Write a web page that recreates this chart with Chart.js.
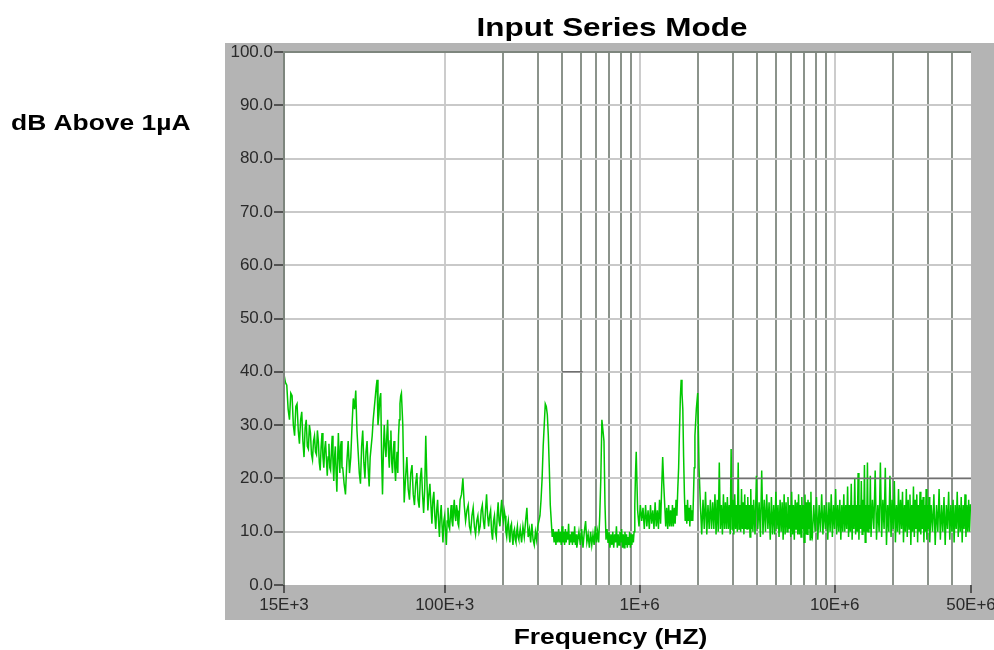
<!DOCTYPE html>
<html>
<head>
<meta charset="utf-8">
<script src="https://cdn.jsdelivr.net/npm/chart.js@4"></script>
<style>
html,body{margin:0;padding:0;background:#ffffff;}
#wrap{position:relative;width:994px;height:650px;}
</style>
</head>
<body>
<div id="wrap"><canvas id="c" width="994" height="650"></canvas></div>
<script>
const chartTitle = 'Input Series Mode';
const yAxisLabel = 'dB Above 1µA';
const xAxisLabel = 'Frequency (HZ)';

// Sweep frequencies (kHz)
const freqKHz = [
 15,15.25,15.5,15.75,16,16.25,16.5,16.75,17,17.25,17.5,17.75,18,18.25,18.5,18.75,19,19.25,19.5,19.75,20,20.25,20.5,20.75,21,21.25,21.5,21.75,22,22.25,22.5,22.75,23,23.25,23.5,23.75,24,24.25,24.5,24.75,25,25.25,25.5,25.75,26,26.25,26.5,26.75,27,27.25,27.5,27.75,28,28.25,28.5,28.75,29,29.25,29.5,29.75,
 30,30.5,31,31.5,32,32.5,33,33.5,34,34.5,35,35.5,36,36.5,37,37.5,38,38.5,39,39.5,40,40.5,41,41.5,42,42.5,43,43.5,44,44.5,45,45.5,46,46.5,47,47.5,48,48.5,49,49.5,50,50.5,51,51.5,52,52.5,53,53.5,54,54.5,55,55.5,56,56.5,57,57.5,58,58.5,59,59.5,
 60,61,62,63,64,65,66,67,68,69,70,71,72,73,74,75,76,77,78,79,80,81,82,83,84,85,86,87,88,89,90,91,92,93,94,95,96,97,98,99,100,101,102,103,104,105,106,107,108,109,110,111,112,113,114,115,116,117,118,119,
 120,122,124,126,128,130,132,134,136,138,140,142,144,146,148,150,152,154,156,158,160,162,164,166,168,170,172,174,176,178,180,182,184,186,188,190,192,194,196,198,200,202,204,206,208,210,212,214,216,218,220,222,224,226,228,230,232,234,236,238,
 240,244,248,252,256,260,264,268,272,276,280,284,288,292,296,300,304,308,312,316,320,324,328,332,336,340,344,348,352,356,360,364,368,372,376,380,384,388,392,396,400,404,408,412,416,420,424,428,432,436,440,444,448,452,456,460,464,468,472,476,
 480,488,496,504,512,520,528,536,544,552,560,568,576,584,592,600,608,616,624,632,640,648,656,664,672,680,688,696,704,712,720,728,736,744,752,760,768,776,784,792,800,808,816,824,832,840,848,856,864,872,880,888,896,904,912,920,928,936,944,952,
 960,976,992,1008,1024,1040,1056,1072,1088,1104,1120,1136,1152,1168,1184,1200,1216,1232,1248,1264,1280,1296,1312,1328,1344,1360,1376,1392,1408,1424,1440,1456,1472,1488,1504,1520,1536,1552,1568,1584,1600,1616,1632,1648,1664,1680,1696,1712,1728,1744,1760,1776,1792,1808,1824,1840,1856,1872,1888,1904,
 1920,1952,1984,2016,2048,2080,2112,2144,2176,2208,2240,2272,2304,2336,2368,2400,2432,2464,2496,2528,2560,2592,2624,2656,2688,2720,2752,2784,2816,2848,2880,2912,2944,2976,3008,3040,3072,3104,3136,3168,3200,3232,3264,3296,3328,3360,3392,3424,3456,3488,3520,3552,3584,3616,3648,3680,3712,3744,3776,3808,
 3840,3904,3968,4032,4096,4160,4224,4288,4352,4416,4480,4544,4608,4672,4736,4800,4864,4928,4992,5056,5120,5184,5248,5312,5376,5440,5504,5568,5632,5696,5760,5824,5888,5952,6016,6080,6144,6208,6272,6336,6400,6464,6528,6592,6656,6720,6784,6848,6912,6976,7040,7104,7168,7232,7296,7360,7424,7488,7552,7616,
 7680,7808,7936,8064,8192,8320,8448,8576,8704,8832,8960,9088,9216,9344,9472,9600,9728,9856,9984,10112,10240,10368,10496,10624,10752,10880,11008,11136,11264,11392,11520,11648,11776,11904,12032,12160,12288,12416,12544,12672,12800,12928,13056,13184,13312,13440,13568,13696,13824,13952,14080,14208,14336,14464,14592,14720,14848,14976,15104,15232,
 15360,15616,15872,16128,16384,16640,16896,17152,17408,17664,17920,18176,18432,18688,18944,19200,19456,19712,19968,20224,20480,20736,20992,21248,21504,21760,22016,22272,22528,22784,23040,23296,23552,23808,24064,24320,24576,24832,25088,25344,25600,25856,26112,26368,26624,26880,27136,27392,27648,27904,28160,28416,28672,28928,29184,29440,29696,29952,30208,30464,
 30720,31232,31744,32256,32768,33280,33792,34304,34816,35328,35840,36352,36864,37376,37888,38400,38912,39424,39936,40448,40960,41472,41984,42496,43008,43520,44032,44544,45056,45568,46080,46592,47104,47616,48128,48640,49152,49664,50000
];

// Measured level (dB above 1 µA)
const levelDb = [
 39.5,38,37.5,33,31,36,35.5,30,28,33.5,34,29,26.5,31,32.5,27,24,29.5,31,26,25.5,30,28.5,24.5,23.5,27,28,25,24.5,29,27,23,21.5,26,28.5,24,22,25.5,27,23.5,20.5,24,26.5,22,21.5,25,28,23,19.5,24,26,21,17.5,23.5,28.5,24,21,26,27,22,
 22,19,17,23,27,21,24,30,35,33,36.5,29,25,21,19,26,29,23,20,25,27,22,18.5,24,26,28,31,33,35,37,38.5,30,32,35,36,24,17,25,30,26,24,28,31,25,22,27,29,23,21,25,27,22,19.5,23,25,21,28,31,34,35.5,
 36,30,15.5,20,24,18,16,21,22.5,17,15,19,21,16,14.5,20,22,17,13.5,18,28,20,14,17,19,15,11.5,16,17.5,13,10.5,14,16,12,9,13,15,11,8,12,13,10,7.5,12,14.5,11,10.5,13,15,12,11,14,16,13,12,15,14,11.5,11,13.5,
 16,17,20,15,12,14,15,11,10,13,14.5,11,9.5,12,13,10,11,14,15,12,10.5,14,17,13,11,13,14,10,8.5,12,13,10,9,13,15.5,12,11,14,16,13,12,14,13,10,9,11,12,9.5,8,11,11.5,9,7.5,10,10.5,8.5,8,10,11,9,
 8.5,10.5,8,11,9,12,14.5,9,10.5,8,11.5,8.5,7.5,10,8.5,11,12,13,16,20,26,30,34,33.5,32,28,22,15,12,9,10.5,8,10,7.5,10,8,10.5,8,10,7.5,11,8,10,7.5,10.5,8,10,8.5,11.5,7.5,9.5,8,10,7.5,10,8,11,7.5,9.5,7,
 8,10,7.5,10.5,7,10,12,8,9.5,7,10,7.5,9.5,7.5,11,8,10,8,13,20,31,29,27,15,8.5,10.5,8,10,7,9.5,7.5,10,7,9.5,8,11,7,9.5,7.5,10,8,10.5,7,9.5,7,10,7.5,9.5,7,9,7.5,10,7,9.5,7.5,9.5,8,10,15,21,
 25,14,11,15,12,14.5,10.5,15,11,14,10.5,15,11.5,14,10.5,15.5,11,14,10.5,16,11.5,18,24,19,15,11,14.5,10.5,15,11,14,11,15,11,14.5,11.5,16,13,18,22,29,35,38.5,36,33,24,17,12,15,11.5,16,12,14.5,11,15,12,14,12,17,22,
 28,33,36,22,15,9.5,16,10.5,17.5,9.5,15,10.5,16,10.5,15.5,10.5,17,9.5,16,10,23,10.5,15,9.5,17,10.5,15.5,10.5,16.5,10.5,15,9.5,25.5,10.5,16,9.5,17,10.5,15,10,23,10.5,15,10,18,10.5,15.5,9.5,17,10.5,15,10.5,16.5,10.5,15,9,18,10.5,15,10,
 16,9.5,20.5,10.5,15.5,9,21.5,9.5,16,10,17,10.5,15.5,8.5,16.5,9.5,15,9.5,17.5,10.5,15,9,16,10,15.5,8.5,17,9.5,15.5,10,16.5,10.5,15,9,17.5,9.5,15,8.5,16,10.5,15.5,9.5,17,9.5,15,9,16.5,10.5,15,8,17,9.5,15.5,9.5,16,10.5,15.5,8.5,17.5,9.5,
 9,15,10,16.5,8.5,15,10,17,9.5,15,10.5,15.5,8.5,15.5,10,17,9,15,10.5,18,9.5,15,10,16,8.5,15,10,17,10,15,10.5,18.5,9,15,10,19,8.5,15,10.5,20,9.5,15,10,21,8.5,15,10.5,19.5,9.5,16,10,22.5,8,15,10,23,10,15,10.5,20.5,
 9,16,10.5,21.5,8.5,15,10,23,9,16,10.5,22,7.5,15,10,20.5,9,16,10.5,19.5,8,15,10,18,9.5,16,10.5,17.5,8,15,10,18,9,16,10.5,17,7.5,15,10,18.5,9,16,10.5,17,8,15,10,17.5,9.5,16,10.5,16.5,8,15,10,18,8.5,15,10.5,16.5,
 8,15,10,17,7.5,15,10,18,8.5,15,10,16.5,7.5,15,10.5,17.5,8.5,15,10,16,8,15,10.5,17.5,9,15,10,16.5,8,15,10.5,17,9,15,10,16,10,15,15
];

// Faint limit-line remnants
const limitFreqKHz = [400, 510, 520, 2000, 50000];
const limitDb = [40, 40, null, 20, 20];

// Axis ticks
const xGridHz = [15e3,1e5,2e5,3e5,4e5,5e5,6e5,7e5,8e5,9e5,1e6,2e6,3e6,4e6,5e6,6e6,7e6,8e6,9e6,1e7,2e7,3e7,4e7,5e7];
const xDecadeHz = [1e5,1e6,1e7];
const xLabelHz = [15e3,1e5,1e6,1e7,5e7];
const xLabelText = ['15E+3','100E+3','1E+6','10E+6','50E+6'];
const yTickValues = [0,10,20,30,40,50,60,70,80,90,100];

const FONT = '"Liberation Sans", Arial, sans-serif';

const framePlugin = {
  id: 'frame',
  beforeDraw(chart) {
    const ctx = chart.ctx, a = chart.chartArea;
    ctx.save();
    ctx.fillStyle = '#ffffff';
    ctx.fillRect(0, 0, chart.width, chart.height);
    ctx.fillStyle = '#b4b4b4';
    ctx.fillRect(225, 43, 769, 577);
    ctx.fillStyle = '#ffffff';
    ctx.fillRect(a.left, a.top, a.right - a.left, a.bottom - a.top);
    ctx.restore();
  },
  afterDraw(chart) {
    const ctx = chart.ctx, a = chart.chartArea;
    ctx.save();
    ctx.strokeStyle = '#7e867e';
    ctx.lineWidth = 2;
    ctx.beginPath();
    ctx.moveTo(a.left, a.bottom);
    ctx.lineTo(a.left, a.top);
    ctx.lineTo(a.right, a.top);
    ctx.stroke();
    function txt(t, x, y, size, sx, align) {
      ctx.save();
      ctx.font = 'bold ' + size + 'px ' + FONT;
      ctx.fillStyle = '#000000';
      ctx.textAlign = align;
      ctx.textBaseline = 'alphabetic';
      ctx.translate(x, y);
      ctx.scale(sx, 1);
      ctx.fillText(t, 0, 0);
      ctx.restore();
    }
    txt(chartTitle, 612, 36, 26, 1.21, 'center');
    txt(yAxisLabel, 11, 130, 22, 1.2, 'left');
    txt(xAxisLabel, 610.5, 644, 22, 1.2, 'center');
    ctx.restore();
  }
};

new Chart(document.getElementById('c'), {
  type: 'line',
  data: {
    datasets: [
      {
        label: 'Limit',
        data: limitFreqKHz.map((f, i) => ({x: f * 1000, y: limitDb[i]})),
        borderColor: '#707070',
        borderWidth: 1.5,
        pointRadius: 0,
        spanGaps: false,
        tension: 0
      },
      {
        label: chartTitle,
        data: freqKHz.map((f, i) => ({x: f * 1000, y: levelDb[i]})),
        borderColor: 'rgb(0,200,0)',
        borderWidth: 1.5,
        pointRadius: 0,
        tension: 0
      }
    ]
  },
  options: {
    responsive: false,
    animation: false,
    devicePixelRatio: 1,
    layout: {padding: {left: 225, right: 23, top: 52, bottom: 30}},
    plugins: {legend: {display: false}, title: {display: false}, tooltip: {enabled: false}},
    scales: {
      x: {
        type: 'logarithmic',
        min: 15000,
        max: 50000000,
        afterBuildTicks(s) { s.ticks = xGridHz.map(v => ({value: v})); },
        afterFit(s) { s.height = 35; s.paddingLeft = 0; s.paddingRight = 0; },
        ticks: {
          autoSkip: false, maxRotation: 0, minRotation: 0, padding: 2,
          color: '#2a2a2a', font: {family: FONT, size: 17},
          callback(v) { const i = xLabelHz.indexOf(v); return i >= 0 ? xLabelText[i] : ''; }
        },
        grid: {
          lineWidth: 2,
          color(c) {
            const v = c.tick ? c.tick.value : 0;
            if (v === 15e3 || v === 5e7) return 'rgba(0,0,0,0)';
            if (xDecadeHz.indexOf(v) >= 0) return '#cccccc';
            return '#8b938b';
          },
          drawTicks: true,
          tickLength: 8,
          tickWidth: 1.5,
          tickColor(c) { const v = c.tick ? c.tick.value : 0; return xLabelHz.indexOf(v) >= 0 ? '#333333' : 'rgba(0,0,0,0)'; }
        },
        border: {display: false}
      },
      y: {
        min: 0,
        max: 100,
        afterBuildTicks(s) { s.ticks = yTickValues.map(v => ({value: v})); },
        afterFit(s) { s.width = 59; s.paddingTop = 0; s.paddingBottom = 0; },
        ticks: {
          padding: 1, color: '#2a2a2a', font: {family: FONT, size: 17},
          callback(v) { return Number(v).toFixed(1); }
        },
        grid: {
          lineWidth: 2,
          color(c) { const v = c.tick ? c.tick.value : 0; return (v === 0 || v === 100) ? 'rgba(0,0,0,0)' : '#c9c9c9'; },
          drawTicks: true,
          tickLength: 10,
          tickWidth: 1.5,
          tickColor: '#333333'
        },
        border: {display: false}
      }
    }
  },
  plugins: [framePlugin]
});
</script>
</body>
</html>
